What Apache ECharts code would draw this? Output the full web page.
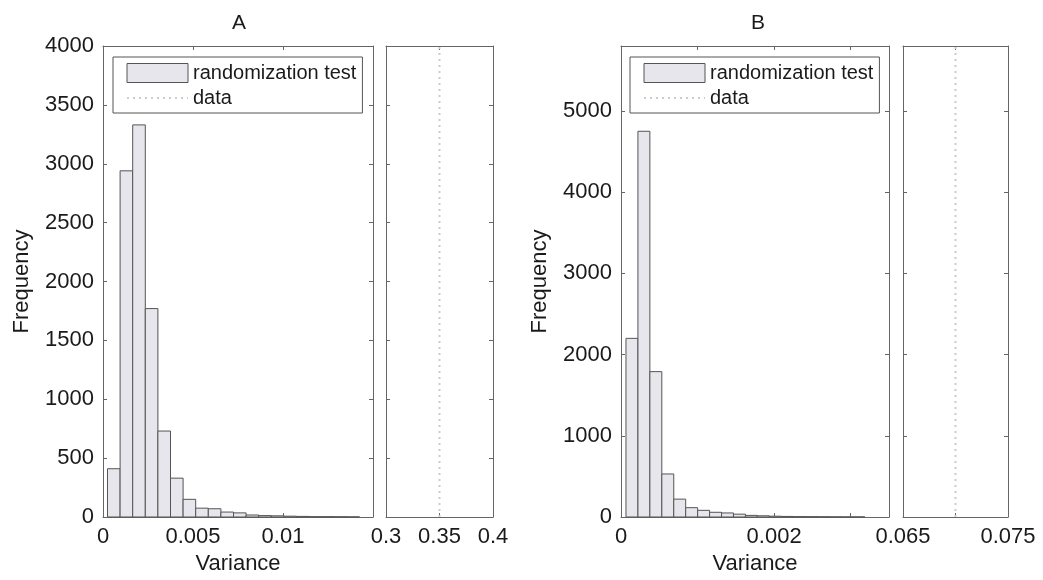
<!DOCTYPE html>
<html><head><meta charset="utf-8">
<script src="https://cdn.jsdelivr.net/npm/echarts@6/dist/echarts.min.js"></script>
<style>html,body{margin:0;padding:0;background:#fff}#c{width:1043px;height:580px}</style>
</head><body><div id="c"></div>
<script>
// ---------------- data ----------------
const panelTitles = ['A', 'B'];
const seriesNames = ['randomization test', 'data'];
const yAxisName = 'Frequency';
const xAxisName = 'Variance';

// Panel A histogram (bin edges and counts)
const binEdgesA = [0.00025, 0.00095, 0.00165, 0.00235, 0.00305, 0.00375, 0.00445, 0.00515, 0.00585, 0.00655,
                   0.00725, 0.00795, 0.00865, 0.00935, 0.01005, 0.01075, 0.01145, 0.01215, 0.01285, 0.01355, 0.01425];
const countsA = [410, 2940, 3330, 1770, 730, 330, 150, 75, 70, 42, 35, 17, 12, 10, 7, 5, 3, 3, 2, 1];
const dataValueA = 0.35;

// Panel B histogram
const binEdgesB = [0.000065, 0.000221, 0.000377, 0.000533, 0.000689, 0.000845, 0.001001, 0.001157, 0.001313, 0.001469,
                   0.001625, 0.001781, 0.001937, 0.002093, 0.002249, 0.002405, 0.002561, 0.002717, 0.002873, 0.003029, 0.003185];
const countsB = [2200, 4750, 1790, 530, 220, 115, 82, 58, 50, 35, 20, 15, 10, 7, 5, 4, 3, 2, 1, 1];
const dataValueB = 0.07;

// Axis ranges and tick labels
const xRangeMainA = [0, 0.015], xStepMainA = 0.005, xLabelsMainA = ['0', '0.005', '0.01'];
const xRangeBreakA = [0.3, 0.4], xStepBreakA = 0.05, xLabelsBreakA = ['0.3', '0.35', '0.4'];
const yRangeA = [0, 4000], yStepA = 500, yLabelsA = ['0','500','1000','1500','2000','2500','3000','3500','4000'];

const xRangeMainB = [0, 0.0035], xStepMainB = 0.001, xLabelsMainB = ['0', '0.002'];
const xRangeBreakB = [0.065, 0.075], xStepBreakB = 0.005, xLabelsBreakB = ['0.065', '0.075'];
const yRangeB = [0, 5800], yStepB = 1000, yLabelsB = ['0','1000','2000','3000','4000','5000'];

// ---------------- styles / layout ----------------
const FONT = "'Liberation Sans', Arial, sans-serif";
const TXT = '#1a1a1a';
const FRAME = '#666';
const BAR_FILL = '#e6e6ec';
const BAR_EDGE = '#555';
const DATA_LINE = '#cccccc';

const panels = [
  { title: panelTitles[0], titleX: 234,
    main: { left: 103, width: 270 }, brk: { left: 386, width: 107 },
    edges: binEdgesA, counts: countsA, dataValue: dataValueA,
    xMain: [xRangeMainA, xStepMainA, xLabelsMainA], xBreak: [xRangeBreakA, xStepBreakA, xLabelsBreakA],
    y: [yRangeA, yStepA, yLabelsA], legendLeft: 113 },
  { title: panelTitles[1], titleX: 753,
    main: { left: 621, width: 268 }, brk: { left: 903, width: 105 },
    edges: binEdgesB, counts: countsB, dataValue: dataValueB,
    xMain: [xRangeMainB, xStepMainB, xLabelsMainB], xBreak: [xRangeBreakB, xStepBreakB, xLabelsBreakB],
    y: [yRangeB, yStepB, yLabelsB], legendLeft: 630 }
];
const TOP = 46, HEIGHT = 471;

function labelFmt(list) {
  return function (v) {
    for (const s of list) { if (Math.abs(parseFloat(s) - v) < 1e-9) return s; }
    return '';
  };
}

const grid = [], xAxis = [], yAxis = [], series = [], legend = [], title = [];

function addAxes(gi, xr, yr, isMain, withName) {
  const [xRange, xStep, xLabels] = xr;
  const [yRange, yStep, yLabels] = yr;
  const common = function () {
    return {
      axisLine: { show: true, onZero: false, lineStyle: { color: FRAME, width: 1 } },
      axisTick: { show: true, inside: true, length: 4, lineStyle: { color: FRAME } },
      splitLine: { show: false }
    };
  };
  const xi = xAxis.length;
  xAxis.push(Object.assign({
    type: 'value', gridIndex: gi, position: 'bottom', min: xRange[0], max: xRange[1], interval: xStep,
    axisLabel: { show: true, formatter: labelFmt(xLabels), color: TXT, fontSize: 22, fontFamily: FONT, margin: 9,
                 showMinLabel: true, showMaxLabel: true, hideOverlap: false },
    name: withName ? xAxisName : '', nameLocation: 'middle', nameGap: 33,
    nameTextStyle: { color: TXT, fontSize: 22, fontFamily: FONT }
  }, common()));
  xAxis.push(Object.assign({
    type: 'value', gridIndex: gi, position: 'top', min: xRange[0], max: xRange[1], interval: xStep,
    axisLabel: { show: false }
  }, common()));
  const yi = yAxis.length;
  yAxis.push(Object.assign({
    type: 'value', gridIndex: gi, position: 'left', min: yRange[0], max: yRange[1], interval: yStep,
    axisLabel: { show: isMain, formatter: labelFmt(yLabels), color: TXT, fontSize: 22, fontFamily: FONT, margin: 9,
                 showMaxLabel: true },
    name: isMain ? yAxisName : '', nameLocation: 'middle', nameGap: 70, nameRotate: 90,
    nameTextStyle: { color: TXT, fontSize: 22, fontFamily: FONT }
  }, common()));
  yAxis.push(Object.assign({
    type: 'value', gridIndex: gi, position: 'right', min: yRange[0], max: yRange[1], interval: yStep,
    axisLabel: { show: false }
  }, common()));
  return [xi, yi];
}

panels.forEach(function (p) {
  const gMain = grid.length;
  grid.push({ left: p.main.left, width: p.main.width, top: TOP, height: HEIGHT, containLabel: false });
  const [xiM, yiM] = addAxes(gMain, p.xMain, p.y, true, true);
  const gBrk = grid.length;
  grid.push({ left: p.brk.left, width: p.brk.width, top: TOP, height: HEIGHT, containLabel: false });
  const [xiB, yiB] = addAxes(gBrk, p.xBreak, p.y, false, false);

  const bars = p.counts.map(function (c, i) { return [p.edges[i], p.edges[i + 1], c]; });
  series.push({
    name: seriesNames[0], type: 'custom', xAxisIndex: xiM, yAxisIndex: yiM,
    data: bars, encode: { x: [0, 1], y: 2 },
    itemStyle: { color: BAR_FILL, borderColor: BAR_EDGE, borderWidth: 1 },
    renderItem: function (params, api) {
      const a = api.coord([api.value(0), api.value(2)]);
      const b = api.coord([api.value(1), 0]);
      return { type: 'rect',
        shape: { x: a[0], y: a[1], width: b[0] - a[0], height: b[1] - a[1] },
        style: { fill: BAR_FILL, stroke: BAR_EDGE, lineWidth: 1 } };
    },
    silent: true, animation: false
  });
  series.push({
    name: seriesNames[1], type: 'line', xAxisIndex: xiB, yAxisIndex: yiB,
    data: [[p.dataValue, p.y[0][0]], [p.dataValue, p.y[0][1]]],
    showSymbol: false, symbol: 'none',
    lineStyle: { color: DATA_LINE, width: 2, type: [2, 4] },
    itemStyle: { color: DATA_LINE },
    silent: true, animation: false, z: 1
  });
  legend.push({
    orient: 'vertical', left: p.legendLeft, top: 57,
    padding: [6, 6, 5, 13], itemGap: 5, itemWidth: 61, itemHeight: 19,
    borderColor: '#555', borderWidth: 1, backgroundColor: '#fff',
    selectedMode: false,
    textStyle: { color: TXT, fontSize: 20, fontFamily: FONT },
    data: [
      { name: seriesNames[0], icon: 'rect', itemStyle: { color: BAR_FILL, borderColor: BAR_EDGE, borderWidth: 1 } },
      { name: seriesNames[1], itemStyle: { opacity: 0 }, lineStyle: { color: DATA_LINE, width: 2, type: [2, 4] } }
    ]
  });
  title.push({
    text: p.title, left: p.titleX, top: 8, textAlign: 'center',
    textStyle: { color: TXT, fontSize: 21, fontWeight: 'normal', fontFamily: FONT }
  });
});

const chart = echarts.init(document.getElementById('c'), null, { renderer: 'canvas' });
chart.setOption({
  backgroundColor: '#fff',
  animation: false,
  title: title, grid: grid, xAxis: xAxis, yAxis: yAxis, legend: legend, series: series
});
</script>
</body></html>
